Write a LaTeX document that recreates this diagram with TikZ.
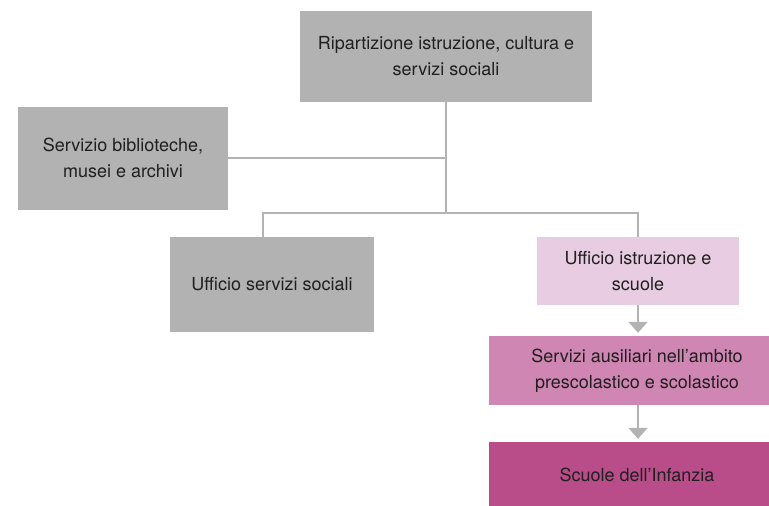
\documentclass[tikz,border=0pt]{standalone}
\usepackage{fontspec}
\setmainfont{TeX Gyre Heros}
\usetikzlibrary{arrows.meta}
\definecolor{boxgray}{HTML}{B2B2B2}
\definecolor{linegray}{HTML}{B3B3B3}
\definecolor{pinklight}{HTML}{E8CCE1}
\definecolor{pinkmid}{HTML}{CF86B3}
\definecolor{pinkdark}{HTML}{B84D8A}
\tikzset{
  orgbox/.style={rectangle, inner sep=0pt, align=center, text=black!88,
    font=\fontsize{18pt}{26pt}\selectfont},
  conn/.style={draw=linegray, line width=2.2pt},
  arr/.style={draw=linegray, line width=2.2pt, -{Triangle[width=19pt,length=11pt]}, shorten >=3pt},
}
\begin{document}
\begin{tikzpicture}[x=1pt,y=-1pt]
\clip (0,0) rectangle (769,506);
\fill[white] (0,0) rectangle (769,506);
\node[orgbox, fill=boxgray, minimum width=292pt, minimum height=91pt] (top) at (446,56.5) {Ripartizione istruzione, cultura e\\servizi sociali};
\node[orgbox, fill=boxgray, minimum width=210pt, minimum height=103pt] (left) at (123,158) {Servizio biblioteche,\\musei e archivi};
\node[orgbox, fill=boxgray, minimum width=204pt, minimum height=95pt] (uss) at (272,284.5) {Ufficio servizi sociali};
\node[orgbox, fill=pinklight, minimum width=202pt, minimum height=68pt] (uis) at (638,271) {Ufficio istruzione e\\scuole};
\node[orgbox, fill=pinkmid, minimum width=296pt, minimum height=69pt] (sa) at (637,370.5) {Servizi ausiliari nell’ambito\\prescolastico e scolastico};
\node[orgbox, fill=pinkdark, minimum width=296pt, minimum height=66pt] (sc) at (637,475) {Scuole dell’Infanzia};
\coordinate (j) at (446,213);
\coordinate (ussin) at (263,0);
\draw[conn] (top.south) -- (j);
\draw[conn] (left.east) -- (left.east -| j);
\draw[conn] (ussin |- uss.north) |- (j) -| (uis.north);
\draw[arr] (uis.south) -- (uis.south |- sa.north);
\draw[arr] (uis.south |- sa.south) -- (uis.south |- sc.north);
\end{tikzpicture}
\end{document}
